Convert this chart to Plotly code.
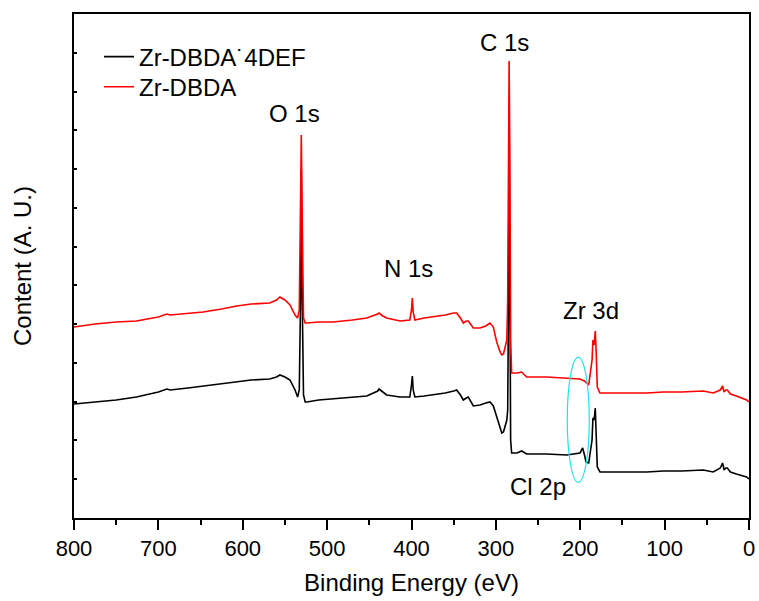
import plotly.graph_objects as go

# Binding energy (eV) and intensity (a.u.)
energy_black = [800, 775, 750, 726, 700, 690, 686, 665, 647, 625, 607, 590, 568, 560, 556, 550, 544, 538, 535, 533,
                531.5, 530.6, 529.5, 528, 526, 524, 510, 493, 470, 453, 440, 438.5, 434, 429.4, 413.6, 402,
                400, 399, 398, 396, 385, 374, 360, 350, 346.5, 342, 338.6, 335, 332.7, 326.7, 318.8, 312,
                307, 303, 299, 295, 293, 291, 289, 287, 286, 285, 284.3, 283.5, 282.5, 281.3, 275, 269.4,
                266, 263.5, 240, 216, 200.3, 197.1, 195, 193.2, 190, 186, 185, 183.5, 182.2, 181.2, 179.8,
                176.6, 150, 121, 101.6, 80, 54.2, 42.4, 34, 31.3, 29.5, 27.5, 25.7, 22, 15, 2.8, 0]
intensity_black = [114, 116, 118, 121, 126, 129, 128, 130, 132, 134, 136, 138, 139, 141, 143, 141, 138, 128, 121, 128,
                   218, 348, 218, 123, 116, 116, 118, 119, 121, 122, 127, 129, 126, 123, 121, 121,
                   133, 142, 128, 121, 122, 123, 125, 127, 128, 123, 118, 120, 121, 112, 113, 115,
                   116, 112, 101, 90, 85, 86, 91, 98, 108, 218, 403, 218, 78, 65, 65, 67,
                   65, 64, 64, 63, 65, 70, 63, 56, 55, 78, 100, 98, 110, 78, 51,
                   46, 46, 46, 47, 47, 48, 46, 50, 55, 48, 50, 50, 46, 44, 41, 39]

energy_red = [800, 775, 750, 726, 700, 690, 686, 665, 647, 625, 607, 590, 568, 560, 556, 550, 544, 538, 535, 533,
              531.5, 530.6, 529.5, 528, 526, 524, 510, 493, 470, 453, 440, 438.5, 434, 429.4, 413.6, 402,
              400, 399, 398, 396, 385, 374, 360, 350, 346.5, 342, 338.6, 335, 332.7, 326.7, 318.8, 312,
              307, 303, 299, 295, 293, 291, 289, 287, 286, 285.3, 284.3, 283.5, 282.5, 281.3, 275, 269.4,
              266, 263.5, 240, 216, 200.3, 195, 192.4, 190, 186, 185, 183.5, 182.2, 181.2, 179.8,
              176.6, 150, 121, 101.6, 80, 54.2, 42.4, 34, 31.3, 29.5, 27.5, 25.7, 22, 15, 2.8, 0]
intensity_red = [191, 194, 196, 197, 201, 204, 203, 205, 206, 209, 212, 214, 215, 218, 221, 218, 213, 203, 200, 208,
                 298, 383, 298, 200, 195, 195, 196, 196, 198, 200, 204, 205, 202, 200, 197, 198,
                 208, 220, 206, 198, 200, 201, 203, 205, 205, 200, 195, 197, 197, 190, 190, 192,
                 195, 191, 176, 166, 163, 164, 170, 178, 218, 368, 457, 368, 178, 145, 145, 146,
                 143, 141, 141, 140, 139, 137, 135, 133, 158, 178, 173, 187, 168, 131,
                 125, 125, 125, 126, 126, 127, 125, 128, 132, 126, 128, 128, 124, 122, 118, 116]

series_names = ["Zr-DBDA˙4DEF", "Zr-DBDA"]
series_colors = ["#000000", "#FF0000"]

peak_labels = ["O 1s", "C 1s", "N 1s", "Zr 3d", "Cl 2p"]
peak_label_energy = [538.1, 289.2, 404.1, 187.3, 250.1]
peak_label_intensity = [405, 476, 250, 208, 32]

x_ticks = [800, 700, 600, 500, 400, 300, 200, 100, 0]

FONT = "Liberation Sans, Arial, sans-serif"

fig = go.Figure()
fig.add_trace(go.Scatter(x=energy_black, y=intensity_black, mode="lines", name=series_names[0],
                         line=dict(color=series_colors[0], width=1.6), legend="legend"))
fig.add_trace(go.Scatter(x=energy_red, y=intensity_red, mode="lines", name=series_names[1],
                         line=dict(color=series_colors[1], width=1.6), legend="legend2"))

for t, e, v in zip(peak_labels, peak_label_energy, peak_label_intensity):
    fig.add_annotation(x=e, y=v, text=t, showarrow=False, xref="x", yref="y",
                       font=dict(family=FONT, size=24, color="black"))

# cyan ellipse highlighting the Cl 2p region
fig.add_shape(type="circle", xref="x", yref="y", x0=215.4, x1=189.3, y0=35.7, y1=160.7,
              line=dict(color="#22E0F0", width=1.2))

legend_style = dict(x=0.037, xanchor="left", yanchor="middle", bgcolor="rgba(0,0,0,0)",
                    font=dict(family=FONT, size=24))
fig.update_layout(
    width=759, height=601,
    margin=dict(l=74, r=10, t=14, b=83),
    paper_bgcolor="white", plot_bgcolor="white",
    font=dict(family=FONT, size=22, color="black"),
    showlegend=True,
    legend=dict(y=0.9147, **legend_style),
    legend2=dict(y=0.855, **legend_style),
)
fig.update_xaxes(range=[800, 0], tickvals=x_ticks, ticks="outside", ticklen=10, tickwidth=1.5,
                 tickcolor="black", showline=True, linecolor="black", linewidth=2, mirror=True,
                 showgrid=False, zeroline=False, automargin=False,
                 minor=dict(dtick=50, ticks="outside", ticklen=5, tickwidth=1.5, tickcolor="black"),
                 title=dict(text="Binding Energy (eV)", font=dict(family=FONT, size=24), standoff=14),
                 tickfont=dict(family=FONT, size=22))
fig.update_yaxes(range=[0, 504], tick0=0, dtick=504 / 13, ticks="inside", ticklen=3, tickwidth=1.5,
                 tickcolor="black", showticklabels=False, showline=True, linecolor="black", linewidth=2,
                 mirror=True, showgrid=False, zeroline=False, automargin=False,
                 title=dict(text="Content (A. U.)", font=dict(family=FONT, size=24), standoff=34))

fig.write_html("out.html")
